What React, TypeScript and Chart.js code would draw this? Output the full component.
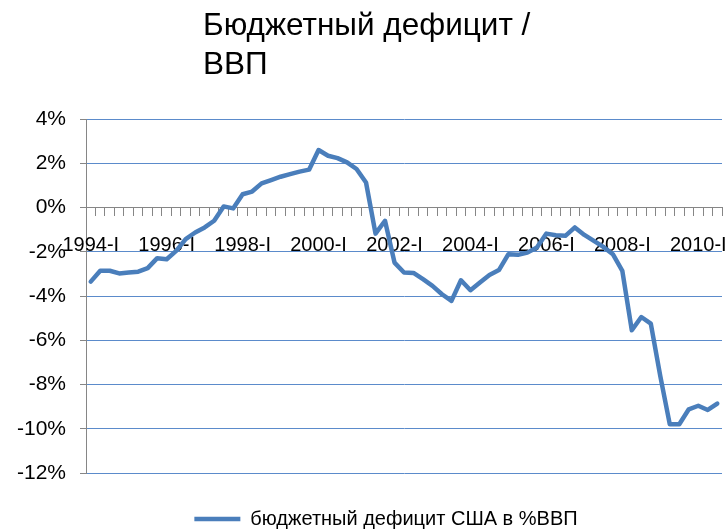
import React, { useEffect, useRef } from "react";
import { Chart, registerables } from "chart.js";

Chart.register(...registerables);

const YEARS = [1994, 1995, 1996, 1997, 1998, 1999, 2000, 2001, 2002, 2003, 2004, 2005, 2006, 2007, 2008, 2009, 2010];
const QUARTERS = ["I", "II", "III", "IV"];
const LAST_YEAR_QUARTERS = 3;

const CATEGORIES: string[] = [];
YEARS.forEach((y, yi) => {
  const n = yi === YEARS.length - 1 ? LAST_YEAR_QUARTERS : 4;
  for (let q = 0; q < n; q++) CATEGORIES.push(`${y}-${QUARTERS[q]}`);
});

// бюджетный дефицит США в % ВВП, quarterly (1994-I … 2010-III)
const DEFICIT = [
  -3.35, -2.86, -2.86, -2.98, -2.94, -2.9, -2.74, -2.29,
  -2.34, -1.96, -1.43, -1.13, -0.9, -0.6, 0.05, -0.04,
  0.6, 0.72, 1.09, 1.24, 1.39, 1.51, 1.62, 1.71,
  2.6, 2.34, 2.23, 2.04, 1.74, 1.13, -1.18, -0.6,
  -2.49, -2.94, -2.96, -3.24, -3.54, -3.92, -4.22, -3.29,
  -3.74, -3.39, -3.05, -2.83, -2.11, -2.14, -2.04, -1.81,
  -1.18, -1.25, -1.28, -0.9, -1.24, -1.51, -1.78, -2.11,
  -2.86, -5.55, -4.95, -5.25, -7.62, -9.8, -9.8, -9.12,
  -8.96, -9.15, -8.86,
];

const SERIES_LABEL = "бюджетный дефицит США в %ВВП";
const TITLE_LINES = ["Бюджетный дефицит /", "ВВП"];
const Y_MIN = -12;
const Y_MAX = 4;
const Y_STEP = 2;
const LABEL_EVERY = 8;

const FONT = "'Liberation Sans', Arial, Helvetica, sans-serif";
const LINE_COLOR = "#4a7ebb";
const GRID_COLOR = "#5b8bcb";
const AXIS_COLOR = "#868686";

// shifts the legend's centring box so the legend sits under the plot like the original
const legendShift = {
  id: "legendShift",
  afterLayout(chart: any) {
    if (chart.legend) chart.legend.left = 50;
  },
};

export default function App() {
  const ref = useRef<HTMLCanvasElement>(null);

  useEffect(() => {
    if (!ref.current) return;
    Chart.defaults.font.family = FONT;
    Chart.defaults.color = "#000";
    const chart = new Chart(ref.current, {
      type: "line",
      data: {
        labels: CATEGORIES,
        datasets: [
          {
            label: SERIES_LABEL,
            data: DEFICIT,
            borderColor: LINE_COLOR,
            backgroundColor: LINE_COLOR,
            borderWidth: 4.5,
            pointRadius: 0,
            pointHoverRadius: 0,
            tension: 0,
            borderJoinStyle: "round",
            borderCapStyle: "round",
            fill: false,
          },
        ],
      },
      plugins: [legendShift],
      options: {
        responsive: false,
        animation: false,
        devicePixelRatio: 1,
        layout: { padding: { left: 8, right: 5, top: 119, bottom: -7 } },
        plugins: {
          title: { display: false },
          tooltip: { enabled: false },
          legend: {
            display: true,
            position: "bottom",
            title: { display: true, text: "", padding: 0, font: { size: 30, lineHeight: 1 } },
            labels: {
              usePointStyle: true,
              pointStyle: "line",
              pointStyleWidth: 46,
              boxHeight: 20,
              padding: 6,
              color: "#000",
              font: { size: 20, family: FONT },
            },
          },
        },
        scales: {
          y: {
            min: Y_MIN,
            max: Y_MAX,
            afterFit: (s: any) => {
              s.width = 78;
            },
            ticks: {
              stepSize: Y_STEP,
              padding: 14,
              color: "#000",
              font: { size: 21, family: FONT },
              callback: (v: any) => `${v}%`,
            },
            grid: {
              color: GRID_COLOR,
              lineWidth: 1,
              tickColor: AXIS_COLOR,
              tickLength: 6,
              drawTicks: true,
            },
            border: { display: true, color: AXIS_COLOR, width: 1 },
          },
          x: {
            type: "category",
            position: { y: 0 } as any,
            offset: true,
            afterFit: (s: any) => {
              s.paddingLeft = 0;
              s.paddingRight = 0;
              s.paddingTop = 0;
              s.paddingBottom = 0;
            },
            grid: {
              offset: true,
              drawOnChartArea: false,
              drawTicks: true,
              tickLength: 8,
              tickColor: AXIS_COLOR,
              color: AXIS_COLOR,
            },
            border: { display: true, color: AXIS_COLOR, width: 1 },
            ticks: {
              autoSkip: false,
              maxRotation: 0,
              minRotation: 0,
              padding: 18,
              color: "#000",
              font: { size: 20, family: FONT },
              callback: (_v: any, i: number) => (i % LABEL_EVERY === 0 ? CATEGORIES[i] : ""),
            },
          },
        },
      },
    });
    return () => chart.destroy();
  }, []);

  return (
    <div style={{ position: "absolute", left: 0, top: 0, width: 727, height: 532, background: "#fff", overflow: "hidden" }}>
      <canvas ref={ref} width={727} height={532} style={{ position: "absolute", left: 0, top: 0, width: 727, height: 532 }} />
      <div
        style={{
          position: "absolute",
          left: 203,
          top: 5,
          fontFamily: FONT,
          fontSize: 31.5,
          lineHeight: "39px",
          whiteSpace: "pre",
          color: "#000",
        }}
      >
        {TITLE_LINES.join("\n")}
      </div>
    </div>
  );
}
